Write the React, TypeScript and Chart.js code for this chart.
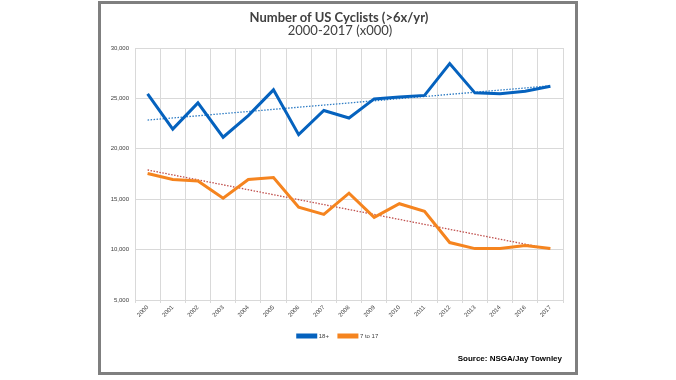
import React, { useEffect, useRef } from 'react';
import { Chart, registerables } from 'chart.js';

Chart.register(...registerables);

const years = ['2000', '2001', '2002', '2003', '2004', '2005', '2006', '2007', '2008', '2009', '2010', '2011', '2012', '2013', '2014', '2016', '2017'];
const adults = [25450, 21950, 24550, 21150, 23300, 25850, 21400, 23800, 23050, 24950, 25150, 25300, 28450, 25550, 25450, 25700, 26200];
const youth = [17550, 16950, 16800, 15100, 16950, 17150, 14200, 13500, 15600, 13200, 14550, 13800, 10700, 10100, 10100, 10400, 10100];
const adultsTrend = [22850, null, null, null, null, null, null, null, null, null, null, null, null, null, null, null, 26250];
const youthTrend = [17900, null, null, null, null, null, null, null, null, null, null, null, null, null, null, null, 10050];
const seriesNames = ['18+', '7 to 17'];
const titleText = 'Number of US Cyclists (>6x/yr)';
const subtitleText = '2000-2017 (x000)';
const sourceText = 'Source: NSGA/Jay Townley';

const BLUE = '#0562BE';
const ORANGE = '#F5841F';

export default function App() {
  const ref = useRef<HTMLCanvasElement | null>(null);

  useEffect(() => {
    if (!ref.current) return;
    const chart = new Chart(ref.current, {
      type: 'line',
      data: {
        labels: years,
        datasets: [
          {
            label: seriesNames[0],
            data: adults,
            borderColor: BLUE,
            backgroundColor: BLUE,
            borderWidth: 3,
            pointRadius: 0,
            tension: 0,
          },
          {
            label: seriesNames[1],
            data: youth,
            borderColor: ORANGE,
            backgroundColor: ORANGE,
            borderWidth: 3,
            pointRadius: 0,
            tension: 0,
          },
          {
            label: 'trend 18+',
            data: adultsTrend,
            borderColor: '#2E7CC4',
            borderWidth: 1.3,
            borderDash: [1.5, 1.5],
            pointRadius: 0,
            spanGaps: true,
          },
          {
            label: 'trend 7 to 17',
            data: youthTrend,
            borderColor: '#C0504D',
            borderWidth: 1.3,
            borderDash: [1.5, 1.5],
            pointRadius: 0,
            spanGaps: true,
          },
        ],
      },
      options: {
        responsive: false,
        animation: false,
        layout: { padding: { left: 95, right: 95, top: 48, bottom: 31 } },
        plugins: {
          title: { display: false },
          tooltip: { enabled: false },
          legend: {
            display: true,
            position: 'bottom',
            labels: {
              boxWidth: 18,
              boxHeight: 2,
              padding: 10,
              color: '#404040',
              font: { family: 'Liberation Sans', size: 6 },
              filter: (item: any) => item.datasetIndex < 2,
            },
          },
        },
        scales: {
          x: {
            offset: true,
            grid: {
              color: '#D9D9D9',
              lineWidth: 1,
              offset: true,
              drawTicks: true,
              tickLength: 3,
            },
            border: { color: '#D9D9D9' },
            ticks: {
              autoSkip: false,
              minRotation: 45,
              maxRotation: 45,
              padding: 1,
              color: '#404040',
              font: { family: 'Liberation Sans', size: 6 },
            },
            afterFit: (s: any) => {
              s.height = 23;
            },
          },
          y: {
            min: 5000,
            max: 30000,
            grid: { color: '#D9D9D9', lineWidth: 1, drawTicks: false },
            border: { display: false },
            ticks: {
              stepSize: 5000,
              padding: 6,
              color: '#404040',
              font: { family: 'Liberation Sans', size: 6 },
              callback: (v: any) => Number(v).toLocaleString('en-US'),
            },
            afterFit: (s: any) => {
              s.width = 40;
            },
          },
          yRight: {
            position: 'right',
            display: true,
            grid: { display: false, drawTicks: false },
            border: { display: false },
            ticks: { display: false },
            afterFit: (s: any) => {
              s.width = 18;
            },
          },
        },
      },
    });
    return () => chart.destroy();
  }, []);

  return (
    <div style={{ position: 'absolute', left: 0, top: 0, width: 676, height: 380, background: '#fff', overflow: 'hidden' }}>
      <div
        style={{
          position: 'absolute',
          left: 98,
          top: 1,
          width: 480,
          height: 374,
          border: '3px solid #7F7F7F',
          boxSizing: 'border-box',
        }}
      />
      <canvas ref={ref} width={676} height={380} style={{ position: 'absolute', left: 0, top: 0, width: 676, height: 380 }} />
      <div
        style={{
          position: 'absolute',
          left: 0,
          width: 676,
          top: 9,
          textAlign: 'center',
          fontFamily: 'Lato, "Open Sans", sans-serif',
          fontWeight: 700,
          fontSize: 13,
          lineHeight: '16px',
          color: '#404040',
          paddingLeft: 1,
        }}
      >
        {titleText}
      </div>
      <div
        style={{
          position: 'absolute',
          left: 0,
          width: 676,
          top: 22,
          textAlign: 'center',
          fontFamily: 'Lato, "Open Sans", sans-serif',
          fontWeight: 400,
          fontSize: 13,
          lineHeight: '16px',
          color: '#404040',
          paddingLeft: 2,
        }}
      >
        {subtitleText}
      </div>
      <div
        style={{
          position: 'absolute',
          right: 676 - 562,
          top: 353,
          fontFamily: '"Liberation Sans", Arial, sans-serif',
          fontWeight: 700,
          fontSize: 8,
          lineHeight: '12px',
          color: '#000',
          whiteSpace: 'nowrap',
        }}
      >
        {sourceText}
      </div>
    </div>
  );
}
